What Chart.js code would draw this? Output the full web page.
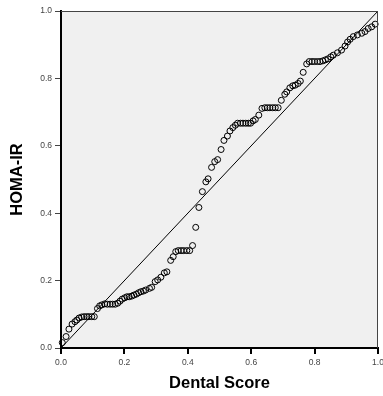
<!DOCTYPE html>
<html>
<head>
<meta charset="utf-8">
<script src="https://cdn.jsdelivr.net/npm/chart.js@4.4.1/dist/chart.umd.min.js"></script>
<style>
html,body{margin:0;padding:0;background:#fff;}
#wrap{width:383px;height:396px;position:relative;}
</style>
</head>
<body>
<div id="wrap"><canvas id="c" width="383" height="396"></canvas></div>
<script>
// Expected cumulative probability (Dental Score) of each point
const dentalScore = [0.004,0.016,0.025,0.035,0.044,0.050,0.057,0.065,0.073,0.081,0.088,0.097,0.105,0.115,0.122,0.129,0.138,0.146,0.155,0.163,0.171,0.179,0.186,0.193,0.201,0.208,0.215,0.223,0.230,0.238,0.245,0.252,0.260,0.267,0.279,0.286,0.297,0.305,0.315,0.326,0.334,0.346,0.354,0.362,0.370,0.379,0.387,0.397,0.406,0.415,0.425,0.435,0.446,0.457,0.464,0.475,0.485,0.494,0.505,0.514,0.525,0.533,0.542,0.550,0.557,0.566,0.574,0.583,0.591,0.598,0.606,0.613,0.624,0.634,0.643,0.651,0.659,0.668,0.676,0.685,0.695,0.706,0.712,0.722,0.731,0.739,0.748,0.755,0.764,0.775,0.783,0.792,0.800,0.809,0.817,0.826,0.834,0.842,0.851,0.859,0.872,0.885,0.896,0.904,0.912,0.922,0.935,0.949,0.959,0.969,0.980,0.991];
// Observed cumulative probability (HOMA-IR)
const homaIR = [0.016,0.034,0.056,0.071,0.078,0.083,0.089,0.092,0.093,0.093,0.093,0.093,0.093,0.117,0.125,0.128,0.131,0.130,0.130,0.130,0.130,0.133,0.139,0.145,0.149,0.152,0.152,0.154,0.157,0.160,0.164,0.167,0.169,0.172,0.177,0.180,0.197,0.202,0.210,0.223,0.226,0.260,0.271,0.286,0.289,0.289,0.289,0.289,0.289,0.304,0.358,0.417,0.464,0.493,0.502,0.536,0.553,0.559,0.589,0.616,0.629,0.644,0.654,0.661,0.667,0.667,0.667,0.667,0.667,0.667,0.674,0.678,0.691,0.711,0.713,0.713,0.713,0.713,0.713,0.713,0.735,0.753,0.760,0.772,0.778,0.780,0.785,0.792,0.818,0.843,0.850,0.850,0.850,0.850,0.850,0.852,0.855,0.858,0.864,0.869,0.876,0.884,0.896,0.908,0.916,0.924,0.929,0.934,0.939,0.948,0.953,0.961];
const refLine = [0, 1];
const tickValues = [0.0, 0.2, 0.4, 0.6, 0.8, 1.0];
const xTitle = 'Dental Score';
const yTitle = 'HOMA-IR';

const points = dentalScore.map((x, i) => ({x: x, y: homaIR[i]}));
const linePts = refLine.map(v => ({x: v, y: v}));

const plotBg = {
  id: 'plotBg',
  beforeDraw(chart) {
    const {ctx, chartArea: a} = chart;
    ctx.save();
    ctx.fillStyle = '#f0f0f0';
    ctx.fillRect(a.left, a.top, a.right - a.left, a.bottom - a.top);
    ctx.restore();
  },
  afterDatasetsDraw(chart) {
    const {ctx, chartArea: a} = chart;
    ctx.save();
    ctx.strokeStyle = '#444';
    ctx.lineWidth = 1;
    ctx.beginPath();
    ctx.moveTo(a.left, a.top + 0.5);
    ctx.lineTo(a.right, a.top + 0.5);
    ctx.moveTo(a.right - 0.5, a.top);
    ctx.lineTo(a.right - 0.5, a.bottom);
    ctx.stroke();
    ctx.restore();
  }
};

const tickFont = {family: "'Liberation Sans', Arial, sans-serif", size: 8.5};
const titleFont = {family: "'Liberation Sans', Arial, sans-serif", size: 16.5, weight: 'bold'};

new Chart(document.getElementById('c'), {
  type: 'scatter',
  data: {
    datasets: [
      {
        type: 'line',
        data: linePts,
        borderColor: '#000',
        borderWidth: 1,
        pointRadius: 0,
        fill: false,
        tension: 0,
        order: 2
      },
      {
        data: points,
        pointStyle: 'circle',
        pointRadius: 3,
        pointBorderWidth: 1,
        pointBorderColor: '#000',
        pointBackgroundColor: 'rgba(0,0,0,0)',
        clip: false,
        order: 1
      }
    ]
  },
  options: {
    responsive: false,
    animation: false,
    events: [],
    layout: {padding: {left: 0, right: 5, top: 11, bottom: 0}},
    plugins: {legend: {display: false}, tooltip: {enabled: false}},
    scales: {
      x: {
        type: 'linear',
        min: 0, max: 1,
        afterBuildTicks(scale) { scale.ticks = tickValues.map(v => ({value: v})); },
        afterFit(scale) { scale.height = 48; scale.paddingLeft = 0; scale.paddingRight = 0; },
        ticks: {
          callback: v => Number(v).toFixed(1),
          color: '#444',
          font: tickFont,
          padding: 4,
          maxRotation: 0,
          autoSkip: false
        },
        grid: {drawOnChartArea: false, drawTicks: true, tickLength: 6, color: '#000', lineWidth: 2},
        border: {display: true, color: '#000', width: 2},
        title: {display: true, text: xTitle, color: '#000', font: titleFont, padding: {top: 0, bottom: 3}}
      },
      y: {
        type: 'linear',
        min: 0, max: 1,
        afterBuildTicks(scale) { scale.ticks = tickValues.map(v => ({value: v})); },
        afterFit(scale) { scale.width = 61; scale.paddingTop = 0; scale.paddingBottom = 0; },
        ticks: {
          callback: v => Number(v).toFixed(1),
          color: '#444',
          font: tickFont,
          padding: 3,
          autoSkip: false
        },
        grid: {drawOnChartArea: false, drawTicks: true, tickLength: 6, color: '#444', lineWidth: 1},
        border: {display: true, color: '#000', width: 2},
        title: {display: true, text: yTitle, color: '#000', font: titleFont, padding: {top: 8, bottom: 0}}
      }
    }
  },
  plugins: [plotBg]
});
</script>
</body>
</html>
